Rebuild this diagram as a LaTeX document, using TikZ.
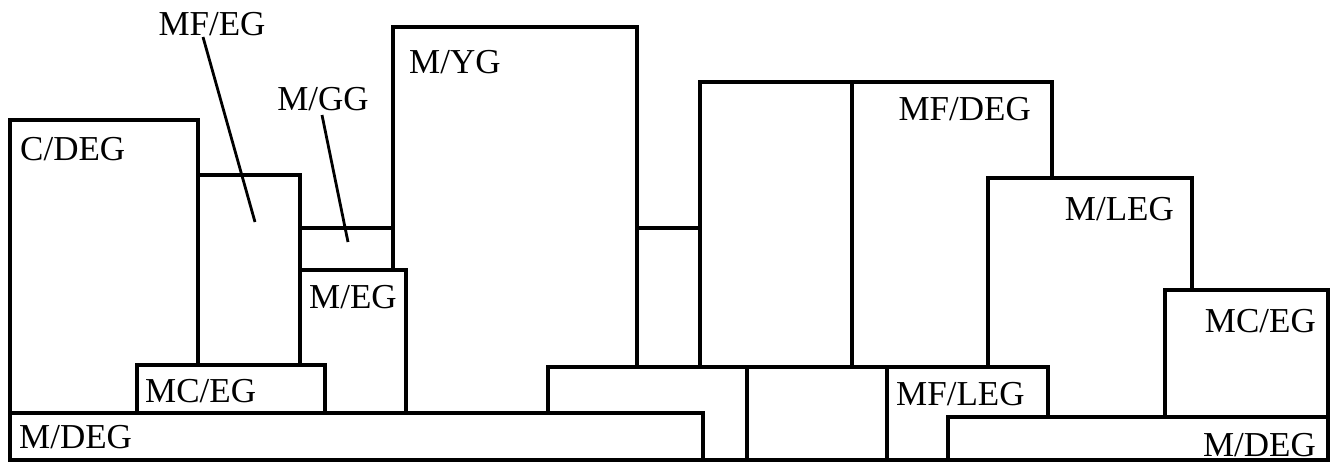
\documentclass[tikz,border=0pt]{standalone}
\usepackage{fontspec}
\setmainfont{Liberation Serif}
\begin{document}
\begin{tikzpicture}[x=1pt,y=-1pt,
  wall/.style={line width=4.5pt,line cap=rect,line join=miter,fill=white},
  leader/.style={line width=2.8pt},
  lbl/.style={inner sep=0pt,font=\fontsize{35}{40}\selectfont}]
\useasboundingbox (0,0) rectangle (1331,464);
% boxes, back to front
\draw[wall] (393,27) rectangle (637,413);            % M/YG
\draw[wall] (637,228) rectangle (700,367);           % small link box
\draw[wall] (700,82) rectangle (852,367);            % unlabeled box
\draw[wall] (852,82) rectangle (1052,367);           % MF/DEG
\draw[wall] (988,178) rectangle (1192,417);          % M/LEG
\draw[wall] (1165,290) rectangle (1328,417);         % MC/EG right
\draw[wall] (10,120) rectangle (198,413);            % C/DEG
\draw[wall] (198,175) rectangle (300,365);           % MF/EG
\draw[wall] (300,228) rectangle (393,270);           % M/GG
\draw[wall] (300,270) rectangle (406,413);           % M/EG
\draw[wall] (137,365) rectangle (325,413);           % MC/EG left
\draw[wall] (548,367) rectangle (747,460);           % middle bar left
\draw[wall] (747,367) rectangle (887,460);           % middle bar right
\draw[wall] (887,367) rectangle (1048,460);          % MF/LEG
\draw[wall] (948,417) rectangle (1328,460);          % M/DEG right
\draw[wall] (10,413) rectangle (703,460);            % M/DEG left
% labels
\node[lbl,anchor=base west] (cdeg) at (20,160) {C/DEG};
\node[lbl,anchor=base] (mfeg) at (212,35) {MF/EG};
\node[lbl,anchor=base] (mgg) at (323,110) {M/GG};
\node[lbl,anchor=base west] (myg) at (409,73) {M/YG};
\node[lbl,anchor=base west] (meg) at (309,308) {M/EG};
\node[lbl,anchor=base west] (mceg1) at (145,402) {MC/EG};
\node[lbl,anchor=base west] (mdeg1) at (19,448) {M/DEG};
\node[lbl,anchor=base east] (mfdeg) at (1031,120) {MF/DEG};
\node[lbl,anchor=base east] (mleg) at (1174,220) {M/LEG};
\node[lbl,anchor=base east] (mceg2) at (1316,332) {MC/EG};
\node[lbl,anchor=base west] (mfleg) at (896,405) {MF/LEG};
\node[lbl,anchor=base east] (mdeg2) at (1316,456) {M/DEG};
% leaders
\coordinate (pmfeg) at (255,222);
\coordinate (pmgg) at (348,242);
\draw[leader] (203,37) -- (pmfeg);
\draw[leader] (322,115) -- (pmgg);
\end{tikzpicture}
\end{document}
